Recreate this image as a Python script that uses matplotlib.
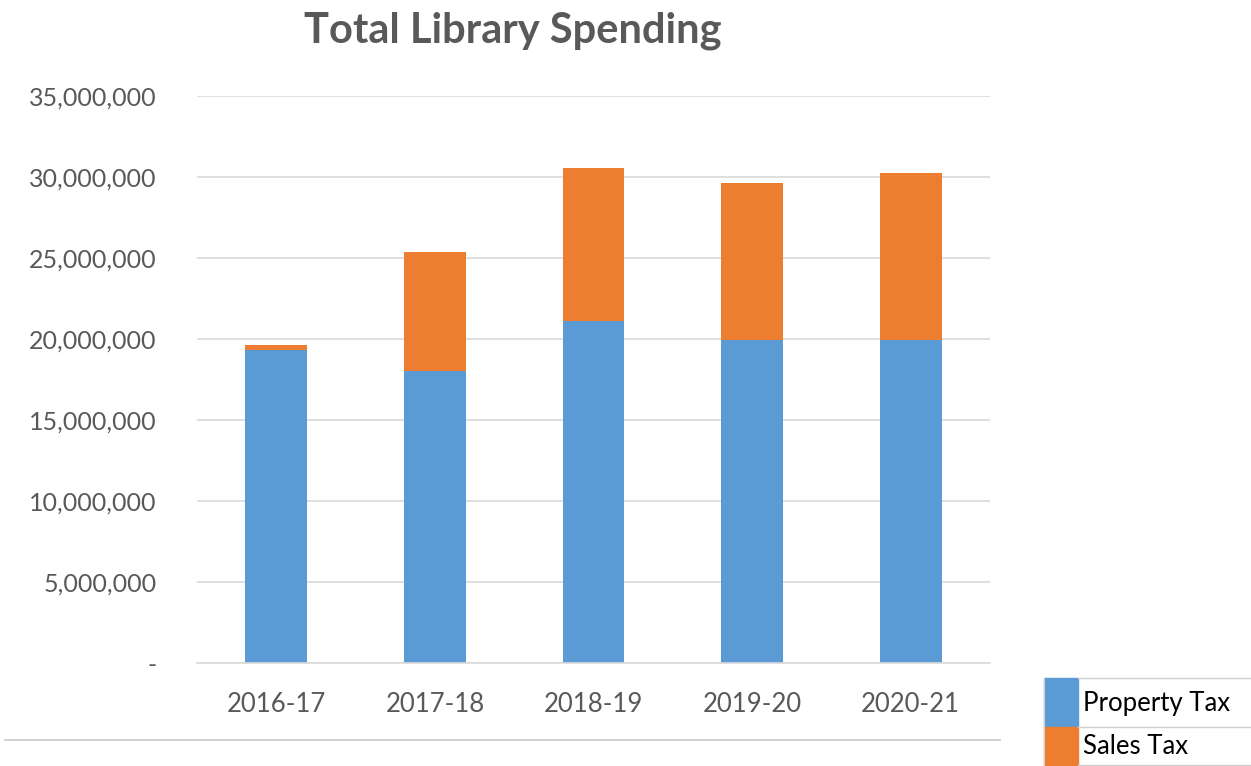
import matplotlib.pyplot as plt
from matplotlib.ticker import FuncFormatter
from matplotlib.patches import Rectangle
from matplotlib.lines import Line2D

plt.rcParams['font.family'] = ['Lato', 'DejaVu Sans']

years = ['2016-17', '2017-18', '2018-19', '2019-20', '2020-21']
property_tax = [19300000, 18000000, 21100000, 19950000, 19950000]
sales_tax = [350000, 7370000, 9450000, 9680000, 10300000]

blue = '#5b9bd5'
orange = '#ed7d31'
grey = '#595959'

fig = plt.figure(figsize=(12.51, 7.66), dpi=100)
ax = fig.add_axes([197/1251, 1 - 663/766, (990-197)/1251, (663-96)/766])

x = range(len(years))
ax.bar(x, property_tax, width=0.39, color=blue, zorder=2)
ax.bar(x, sales_tax, width=0.39, bottom=property_tax, color=orange, zorder=2)

ax.set_xlim(-0.5, 4.5)
ax.set_ylim(0, 35000000)
ax.set_yticks(range(0, 35000001, 5000000))
ax.yaxis.set_major_formatter(FuncFormatter(lambda v, p: '-' if v == 0 else f'{int(v):,}'))
ax.set_xticks(list(x))
ax.set_xticklabels(years)
ax.grid(axis='y', color='#d9d9d9', linewidth=1.2, zorder=0)
for s in ['top', 'right', 'left']:
    ax.spines[s].set_visible(False)
ax.spines['bottom'].set_color('#d9d9d9')
ax.spines['bottom'].set_linewidth(1.2)
ax.tick_params(length=0, colors=grey)
ax.tick_params(axis='x', labelsize=18.5, pad=21)
ax.tick_params(axis='y', labelsize=18, pad=29)

fig.text(513/1251, 1 - 31/766, 'Total Library Spending', ha='center', va='center',
         fontsize=30, fontweight='bold', color=grey)

# legend drawn like the spreadsheet cells
W, H = 1251, 766
fig.add_artist(Rectangle((1044/W, 1 - 727/H), 34/W, 49/H, color=blue, transform=fig.transFigure))
fig.add_artist(Rectangle((1044/W, 0), 34/W, 39/H, color=orange, transform=fig.transFigure))
for yy in [678, 727, 765]:
    fig.add_artist(Line2D([1078/W, 1], [1 - yy/H, 1 - yy/H], color='#d0d0d0', lw=1, transform=fig.transFigure))
fig.add_artist(Line2D([1044/W, 1044/W], [0, 1 - 678/H], color='#d0d0d0', lw=0.8, transform=fig.transFigure))
fig.text(1083/W, 1 - 704/H, 'Property Tax', fontsize=18.5, color='black', va='center')
fig.text(1083/W, 1 - 746/H, 'Sales Tax', fontsize=18.5, color='black', va='center')

# faint bottom border from the screenshot
fig.add_artist(Line2D([5/W, 1000/W], [1 - 740/H, 1 - 740/H], color='#c8c8c8', lw=1.2, transform=fig.transFigure))

fig.savefig('out.png', dpi=100)
